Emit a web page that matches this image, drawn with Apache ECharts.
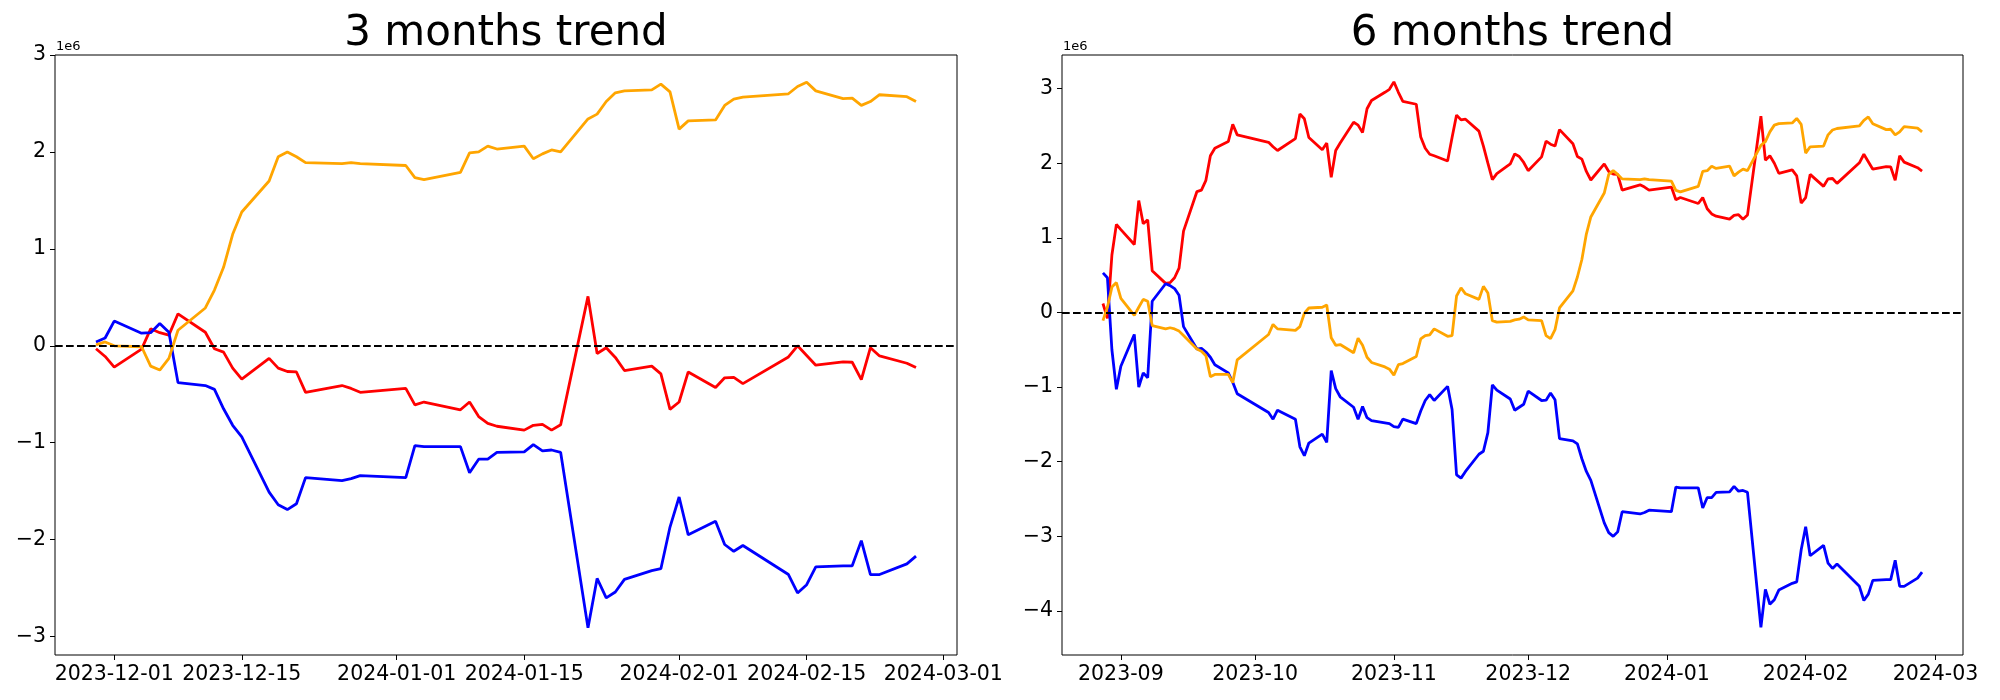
<!DOCTYPE html>
<html>
<head>
<meta charset="utf-8">
<script src="https://cdn.jsdelivr.net/npm/echarts@6/dist/echarts.min.js"></script>
<style>
html,body{margin:0;padding:0;background:#fff;}
#chart{width:2000px;height:700px;}
</style>
</head>
<body>
<div id="chart"></div>
<script>
// ---------- DATA (values in units of 1e6) ----------
const dates3 = ['2023-11-29','2023-11-30','2023-12-01','2023-12-04','2023-12-05','2023-12-06','2023-12-07','2023-12-08',
'2023-12-11','2023-12-12','2023-12-13','2023-12-14','2023-12-15','2023-12-18','2023-12-19','2023-12-20','2023-12-21','2023-12-22',
'2023-12-26','2023-12-27','2023-12-28','2024-01-02','2024-01-03','2024-01-04','2024-01-08','2024-01-09','2024-01-10','2024-01-11','2024-01-12',
'2024-01-15','2024-01-16','2024-01-17','2024-01-18','2024-01-19','2024-01-22','2024-01-23','2024-01-24','2024-01-25','2024-01-26',
'2024-01-29','2024-01-30','2024-01-31','2024-02-01','2024-02-02','2024-02-05','2024-02-06','2024-02-07','2024-02-08',
'2024-02-13','2024-02-14','2024-02-15','2024-02-16','2024-02-19','2024-02-20','2024-02-21','2024-02-22','2024-02-23','2024-02-26','2024-02-27'];

const orange3 = [0.01,0.04,0.0,-0.01,-0.21,-0.25,-0.13,0.16,
0.39,0.575,0.81,1.15,1.38,1.70,1.95,2.00,1.95,1.89,
1.88,1.89,1.88,1.86,1.735,1.715,1.79,1.99,2.0,2.06,2.03,
2.06,1.93,1.98,2.02,2.00,2.34,2.39,2.52,2.61,2.63,
2.64,2.70,2.62,2.235,2.32,2.33,2.48,2.545,2.565,
2.60,2.675,2.72,2.63,2.55,2.555,2.48,2.52,2.59,2.57,2.52];

const red3 = [-0.03,-0.11,-0.22,-0.035,0.175,0.135,0.11,0.33,
0.14,-0.03,-0.065,-0.23,-0.345,-0.13,-0.23,-0.265,-0.27,-0.48,
-0.41,-0.44,-0.48,-0.44,-0.61,-0.58,-0.66,-0.58,-0.73,-0.80,-0.83,
-0.87,-0.82,-0.81,-0.87,-0.815,0.51,-0.08,-0.02,-0.12,-0.255,
-0.21,-0.29,-0.655,-0.58,-0.27,-0.43,-0.33,-0.325,-0.39,
-0.115,0.0,-0.10,-0.2,-0.165,-0.17,-0.35,-0.02,-0.105,-0.18,-0.225];

const blue3 = [0.04,0.08,0.255,0.13,0.135,0.23,0.14,-0.38,
-0.41,-0.45,-0.65,-0.82,-0.94,-1.51,-1.64,-1.69,-1.63,-1.36,
-1.39,-1.37,-1.34,-1.36,-1.03,-1.04,-1.04,-1.31,-1.17,-1.17,-1.10,
-1.095,-1.02,-1.085,-1.075,-1.10,-2.91,-2.40,-2.60,-2.54,-2.41,
-2.32,-2.30,-1.87,-1.56,-1.95,-1.81,-2.05,-2.12,-2.06,
-2.36,-2.55,-2.465,-2.28,-2.27,-2.27,-2.01,-2.36,-2.36,-2.25,-2.17];

const dates6 = ['2023-08-28','2023-08-29','2023-08-30','2023-08-31','2023-09-01','2023-09-04','2023-09-05','2023-09-06','2023-09-07','2023-09-08',
'2023-09-11','2023-09-12','2023-09-13','2023-09-14','2023-09-15','2023-09-18','2023-09-19','2023-09-20','2023-09-21','2023-09-22',
'2023-09-25','2023-09-26','2023-09-27','2023-10-04','2023-10-05','2023-10-06','2023-10-10','2023-10-11','2023-10-12','2023-10-13',
'2023-10-16','2023-10-17','2023-10-18','2023-10-19','2023-10-20','2023-10-23','2023-10-24','2023-10-25','2023-10-26','2023-10-27',
'2023-10-30','2023-10-31','2023-11-01','2023-11-02','2023-11-03','2023-11-06','2023-11-07','2023-11-08','2023-11-09','2023-11-10',
'2023-11-13','2023-11-14','2023-11-15','2023-11-16','2023-11-17','2023-11-20','2023-11-21','2023-11-22','2023-11-23','2023-11-24',
'2023-11-27','2023-11-28'].concat(dates3);

const orange6 = [-0.11,0.07,0.34,0.40,0.19,-0.04,0.07,0.175,0.15,-0.175,
-0.22,-0.205,-0.22,-0.25,-0.31,-0.49,-0.52,-0.58,-0.86,-0.83,
-0.83,-0.94,-0.635,-0.295,-0.16,-0.22,-0.24,-0.19,-0.01,0.06,
0.07,0.10,-0.34,-0.44,-0.43,-0.54,-0.345,-0.44,-0.60,-0.67,
-0.73,-0.76,-0.84,-0.70,-0.685,-0.59,-0.355,-0.31,-0.30,-0.22,
-0.32,-0.31,0.22,0.33,0.25,0.175,0.35,0.26,-0.11,-0.13,
-0.12,-0.10,
-0.09,-0.06,-0.10,-0.11,-0.31,-0.35,-0.23,0.06,
0.29,0.475,0.71,1.05,1.28,1.60,1.85,1.90,1.85,1.79,
1.78,1.79,1.78,1.76,1.635,1.615,1.69,1.89,1.90,1.96,1.93,
1.96,1.83,1.88,1.92,1.90,2.24,2.29,2.42,2.51,2.53,
2.54,2.60,2.52,2.135,2.22,2.23,2.38,2.445,2.465,
2.50,2.575,2.62,2.53,2.45,2.455,2.38,2.42,2.49,2.47,2.42];

const red6 = [0.12,-0.08,0.77,1.18,1.11,0.91,1.50,1.19,1.24,0.56,
0.39,0.40,0.465,0.595,1.09,1.62,1.64,1.77,2.10,2.20,
2.29,2.52,2.38,2.28,2.22,2.17,2.33,2.66,2.595,2.345,
2.18,2.27,1.81,2.17,2.27,2.55,2.51,2.41,2.73,2.84,
2.95,2.99,3.09,2.95,2.83,2.79,2.35,2.20,2.12,2.10,
2.03,2.345,2.645,2.58,2.59,2.43,2.23,2.00,1.78,1.86,
1.99,2.125,
2.09,2.01,1.90,2.085,2.295,2.255,2.23,2.45,
2.26,2.09,2.055,1.89,1.775,1.99,1.89,1.855,1.85,1.64,
1.71,1.68,1.64,1.68,1.51,1.54,1.46,1.54,1.39,1.32,1.29,
1.25,1.30,1.31,1.25,1.305,2.63,2.04,2.10,2.00,1.865,
1.91,1.83,1.465,1.54,1.85,1.69,1.79,1.795,1.73,
2.005,2.12,2.02,1.92,1.955,1.95,1.77,2.10,2.015,1.94,1.895];

const blue6 = [0.53,0.465,-0.5,-1.03,-0.72,-0.295,-1.0,-0.81,-0.875,0.15,
0.385,0.36,0.32,0.23,-0.19,-0.49,-0.48,-0.53,-0.60,-0.70,
-0.81,-0.935,-1.09,-1.34,-1.43,-1.31,-1.43,-1.80,-1.92,-1.75,
-1.63,-1.74,-0.78,-1.02,-1.13,-1.27,-1.43,-1.26,-1.41,-1.45,
-1.48,-1.49,-1.53,-1.54,-1.43,-1.49,-1.32,-1.18,-1.10,-1.18,
-0.99,-1.30,-2.175,-2.22,-2.13,-1.90,-1.86,-1.61,-0.97,-1.04,
-1.16,-1.31,
-1.27,-1.23,-1.055,-1.18,-1.175,-1.08,-1.17,-1.69,
-1.72,-1.76,-1.96,-2.13,-2.25,-2.82,-2.95,-3.00,-2.94,-2.67,
-2.70,-2.68,-2.65,-2.67,-2.34,-2.35,-2.35,-2.62,-2.48,-2.48,-2.41,
-2.405,-2.33,-2.395,-2.385,-2.41,-4.22,-3.71,-3.91,-3.85,-3.72,
-3.63,-3.61,-3.18,-2.87,-3.26,-3.12,-3.36,-3.43,-3.37,
-3.67,-3.86,-3.775,-3.59,-3.58,-3.58,-3.32,-3.67,-3.67,-3.56,-3.48];

const xTicks3 = ['2023-12-01','2023-12-15','2024-01-01','2024-01-15','2024-02-01','2024-02-15','2024-03-01'];
const xTicks6 = ['2023-09-01','2023-10-01','2023-11-01','2023-12-01','2024-01-01','2024-02-01','2024-03-01'];
const yTicks3 = [-3,-2,-1,0,1,2,3];
const yTicks6 = [-4,-3,-2,-1,0,1,2,3];
const titles = ['3 months trend','6 months trend'];
const offsetLabel = '1e6';

// ---------- helpers ----------
const DAY = 864e5;
function ts(s){ const p = s.split('-').map(Number); return Date.UTC(p[0], p[1]-1, p[2]||1); }
function pad(n){ return (n<10?'0':'')+n; }
function fmtDay(v){ const d=new Date(v); return d.getUTCFullYear()+'-'+pad(d.getUTCMonth()+1)+'-'+pad(d.getUTCDate()); }
function fmtMonth(v){ const d=new Date(v); return d.getUTCFullYear()+'-'+pad(d.getUTCMonth()+1); }
function fmtY(v){ return (v<0?'\u2212':'')+Math.abs(v); }
function pairs(dates, vals){ return dates.map((d,i)=>[ts(d), vals[i]]); }

const FONT = '"DejaVu Sans", "Liberation Sans", sans-serif';
const grids = [
  {left:55, top:55, width:902, height:600},
  {left:1062, top:55, width:901, height:600}
];
const ranges = [
  {x:[ts(dates3[0])-4.5*DAY, ts(dates3[dates3.length-1])+4.5*DAY], y:[-3.19, 3.0]},
  {x:[ts(dates6[0])-9.15*DAY, ts(dates6[dates6.length-1])+9.15*DAY], y:[-4.59, 3.45]}
];

function xAxis(i, ticks, fmt){
  const tv = ticks.map(ts);
  return {
    type:'value', gridIndex:i, min:ranges[i].x[0], max:ranges[i].x[1], scale:true,
    axisLine:{show:false, onZero:false},
    axisTick:{show:true, customValues:tv, length:5, lineStyle:{color:'#000', width:1}},
    axisLabel:{show:true, customValues:tv, formatter:fmt, color:'#000', fontSize:20.5, fontFamily:FONT, margin:9, hideOverlap:false},
    splitLine:{show:false}, minorTick:{show:false}
  };
}
function yAxis(i, ticks){
  return {
    type:'value', gridIndex:i, min:ranges[i].y[0], max:ranges[i].y[1],
    axisLine:{show:false},
    axisTick:{show:true, customValues:ticks, length:5, lineStyle:{color:'#000', width:1}},
    axisLabel:{show:true, customValues:ticks, formatter:fmtY, color:'#000', fontSize:20.5, fontFamily:FONT, margin:9},
    splitLine:{show:false}
  };
}
function line(i, data, color, withZero){
  const s = {
    type:'line', xAxisIndex:i, yAxisIndex:i, data:data, showSymbol:false, symbol:'none',
    lineStyle:{color:color, width:2.8}, itemStyle:{color:color}, emphasis:{disabled:true}, silent:true
  };
  if (withZero) {
    s.markLine = {silent:true, symbol:'none', label:{show:false},
      lineStyle:{color:'#000', width:2, type:[7.7,3.3]}, data:[{yAxis:0}], animation:false};
  }
  return s;
}

const option = {
  animation:false,
  backgroundColor:'#fff',
  grid: grids.map(g=>Object.assign({show:true, borderColor:'#000', borderWidth:1, backgroundColor:'#fff', containLabel:false}, g)),
  xAxis:[xAxis(0, xTicks3, fmtDay), xAxis(1, xTicks6, fmtMonth)],
  yAxis:[yAxis(0, yTicks3), yAxis(1, yTicks6)],
  series:[
    line(0, pairs(dates3, red3), '#ff0000', true),
    line(0, pairs(dates3, blue3), '#0000ff', false),
    line(0, pairs(dates3, orange3), '#ffa500', false),
    line(1, pairs(dates6, red6), '#ff0000', true),
    line(1, pairs(dates6, blue6), '#0000ff', false),
    line(1, pairs(dates6, orange6), '#ffa500', false)
  ],
  graphic:[
    {type:'text', x:506, y:34, style:{text:titles[0], font:'42px '+FONT, fill:'#000', align:'center', verticalAlign:'middle'}},
    {type:'text', x:1512.5, y:34, style:{text:titles[1], font:'42px '+FONT, fill:'#000', align:'center', verticalAlign:'middle'}},
    {type:'text', x:56, y:53, style:{text:offsetLabel, font:'13px '+FONT, fill:'#000', align:'left', verticalAlign:'bottom'}},
    {type:'text', x:1063, y:53, style:{text:offsetLabel, font:'13px '+FONT, fill:'#000', align:'left', verticalAlign:'bottom'}}
  ]
};
const chart = echarts.init(document.getElementById('chart'), null, {renderer:'canvas', width:2000, height:700});
chart.setOption(option);
</script>
</body>
</html>
